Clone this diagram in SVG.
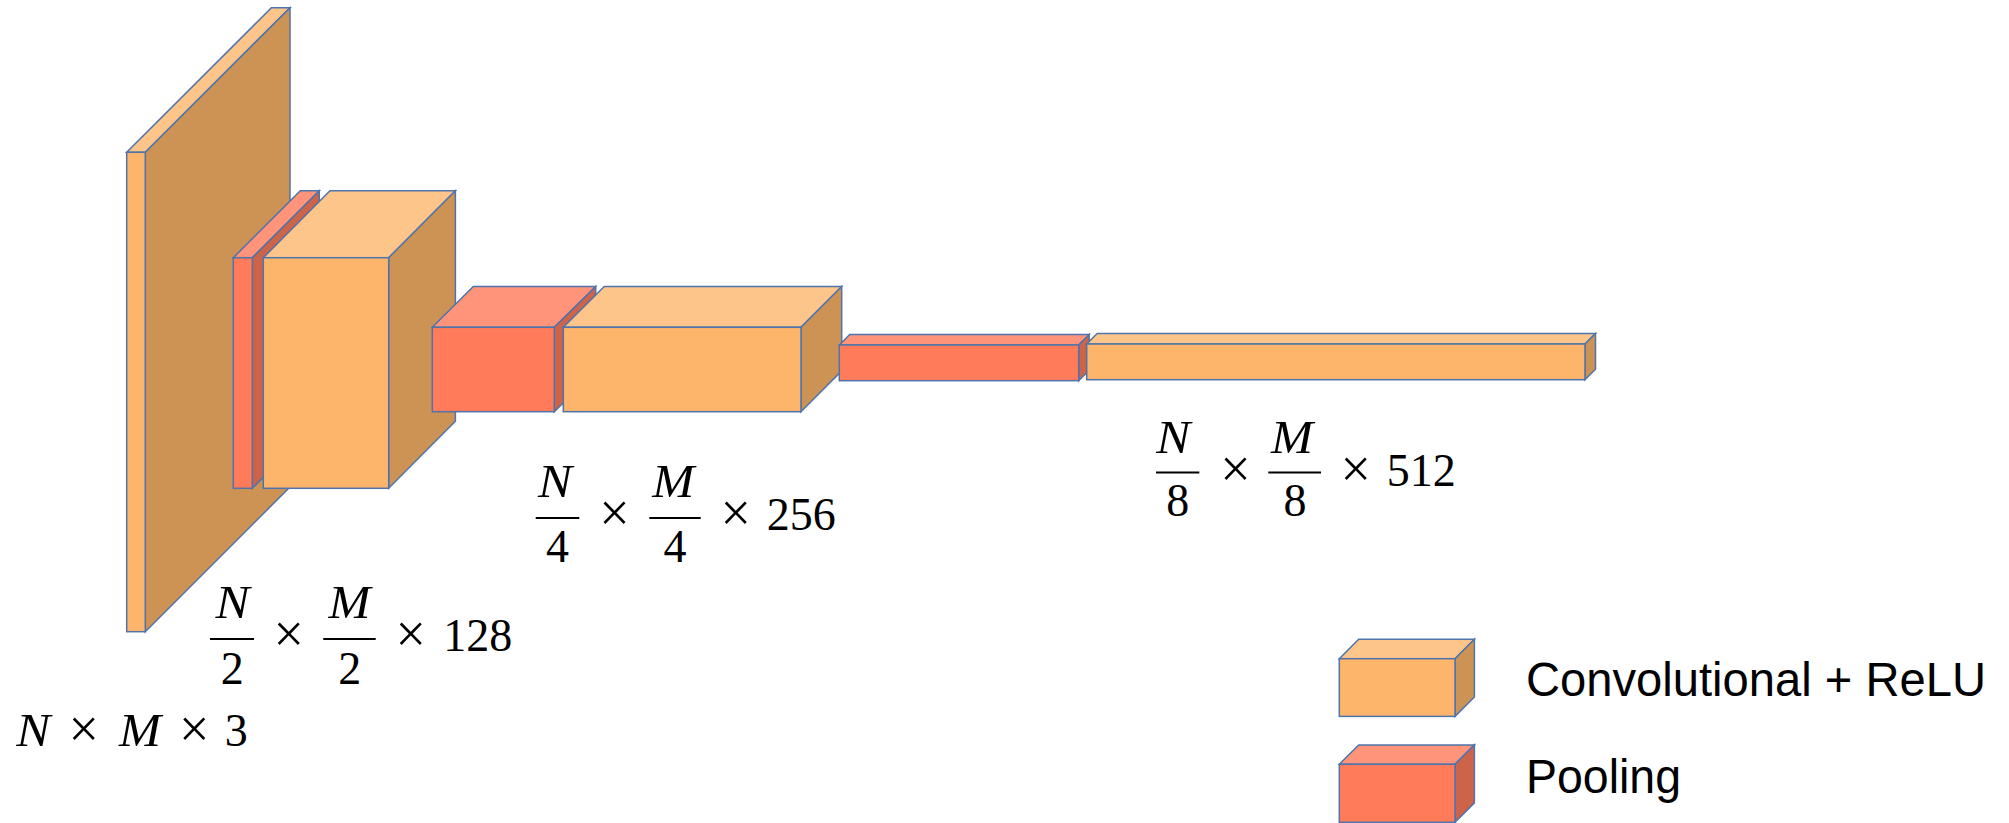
<svg xmlns="http://www.w3.org/2000/svg" width="2009" height="823" viewBox="0 0 2009 823">
<style>
.edge{stroke:#4F74AC;stroke-width:1.5;stroke-linejoin:miter}
.cf{fill:#FDB46B}.ct{fill:#FEC58A}.cs{fill:#CC9355}
.pf{fill:#FF7B5A}.pt{fill:#FF947B}.ps{fill:#CD6449}
.m{font-family:"Liberation Serif","DejaVu Serif",serif;font-size:46px;fill:#000}
.mi{font-style:italic}
.c{text-anchor:middle}
.x{font-size:54px}
.bar{stroke:#000;stroke-width:2}
.lg{font-family:"Liberation Sans",Arial,sans-serif;font-size:48px;fill:#000}
</style>
<rect width="2009" height="823" fill="#fff"/>
<g id="input-layer" class="edge">
<polygon class="ct" points="126.7,152.3 271.4,7.7 290,7.7 145.3,152.3"/>
<polygon class="cs" points="145.3,152.3 290,7.7 290,487 145.3,631.7"/>
<rect class="cf" x="126.7" y="152.3" width="18.6" height="479.4"/>
</g>
<g id="pool1" class="edge">
<polygon class="pt" points="233.3,257.7 300.3,190.7 319.3,190.7 252.3,257.7"/>
<polygon class="ps" points="252.3,257.7 319.3,190.7 319.3,421.3 252.3,488.3"/>
<rect class="pf" x="233.3" y="257.7" width="19" height="230.6"/>
</g>
<g id="conv1" class="edge">
<polygon class="ct" points="263.3,257.7 330,190.7 455.4,190.7 388.7,257.7"/>
<polygon class="cs" points="388.7,257.7 455.4,190.7 455.4,421.3 388.7,488.3"/>
<rect class="cf" x="263.3" y="257.7" width="125.4" height="230.6"/>
</g>
<g id="pool2" class="edge">
<polygon class="pt" points="432.3,327.3 473.3,286.5 595.7,286.5 554.3,327.3"/>
<polygon class="ps" points="554.3,327.3 595.7,286.5 595.7,370.9 554.3,411.7"/>
<rect class="pf" x="432.3" y="327.3" width="122" height="84.4"/>
</g>
<g id="conv2" class="edge">
<polygon class="ct" points="563.3,327.3 604.3,286.5 841.7,286.5 801,327.3"/>
<polygon class="cs" points="801,327.3 841.7,286.5 841.7,370.9 801,411.7"/>
<rect class="cf" x="563.3" y="327.3" width="237.7" height="84.4"/>
</g>
<g id="pool3" class="edge">
<polygon class="pt" points="839.3,345 849.8,334.5 1089.2,334.5 1078.7,345"/>
<polygon class="ps" points="1078.7,345 1089.2,334.5 1089.2,370.2 1078.7,380.7"/>
<rect class="pf" x="839.3" y="345" width="239.4" height="35.7"/>
</g>
<g id="conv3" class="edge">
<polygon class="ct" points="1086.7,344 1097.2,333.5 1595.5,333.5 1585,344"/>
<polygon class="cs" points="1585,344 1595.5,333.5 1595.5,369.2 1585,379.7"/>
<rect class="cf" x="1086.7" y="344" width="498.3" height="35.7"/>
</g>
<g id="connectors"></g>
<g id="label-input">
<text class="m mi c" x="33.3" y="745.7" textLength="34" lengthAdjust="spacingAndGlyphs">N</text>
<text class="m x c" x="83.8" y="747">×</text>
<text class="m mi c" x="140" y="745.7" textLength="42" lengthAdjust="spacingAndGlyphs">M</text>
<text class="m x c" x="194.3" y="747">×</text>
<text class="m c" x="236.3" y="745.7">3</text>
</g>
<g id="label-128">
<text class="m mi c" x="232.5" y="617.7" textLength="34" lengthAdjust="spacingAndGlyphs">N</text>
<line class="bar" x1="210" y1="639" x2="254" y2="639"/>
<text class="m c" x="232.2" y="684">2</text>
<text class="m x c" x="288.8" y="652">×</text>
<text class="m mi c" x="349.5" y="617.7" textLength="42" lengthAdjust="spacingAndGlyphs">M</text>
<line class="bar" x1="323.3" y1="639" x2="375.7" y2="639"/>
<text class="m c" x="349.7" y="684">2</text>
<text class="m x c" x="410.8" y="652">×</text>
<text class="m" x="443.3" y="651">128</text>
</g>
<g id="label-256">
<text class="m mi c" x="555" y="496.7" textLength="34" lengthAdjust="spacingAndGlyphs">N</text>
<line class="bar" x1="535.7" y1="518" x2="579.3" y2="518"/>
<text class="m c" x="557.5" y="562.3">4</text>
<text class="m x c" x="614.5" y="531">×</text>
<text class="m mi c" x="673.3" y="496.7" textLength="42" lengthAdjust="spacingAndGlyphs">M</text>
<line class="bar" x1="649.3" y1="518" x2="700.7" y2="518"/>
<text class="m c" x="675" y="562.3">4</text>
<text class="m x c" x="735.8" y="531">×</text>
<text class="m" x="766.7" y="530">256</text>
</g>
<g id="label-512">
<text class="m mi c" x="1173.3" y="453.3" textLength="34" lengthAdjust="spacingAndGlyphs">N</text>
<line class="bar" x1="1156" y1="472.5" x2="1199.3" y2="472.5"/>
<text class="m c" x="1177.8" y="516">8</text>
<text class="m x c" x="1235.5" y="487">×</text>
<text class="m mi c" x="1292" y="453.3" textLength="42" lengthAdjust="spacingAndGlyphs">M</text>
<line class="bar" x1="1268.3" y1="472.5" x2="1321" y2="472.5"/>
<text class="m c" x="1295" y="516">8</text>
<text class="m x c" x="1355.8" y="487">×</text>
<text class="m" x="1386.7" y="486">512</text>
</g>
<g id="legend-conv" class="edge">
<polygon class="ct" points="1339.3,658.7 1358.7,639.3 1474.4,639.3 1455,658.7"/>
<polygon class="cs" points="1455,658.7 1474.4,639.3 1474.4,697 1455,716.4"/>
<rect class="cf" x="1339.3" y="658.7" width="115.7" height="57.7"/>
</g>
<g id="legend-pool" class="edge">
<polygon class="pt" points="1339.3,764.3 1358.7,744.9 1474.4,744.9 1455,764.3"/>
<polygon class="ps" points="1455,764.3 1474.4,744.9 1474.4,802.9 1455,822.3"/>
<rect class="pf" x="1339.3" y="764.3" width="115.7" height="58"/>
</g>
<g id="legend-text">
<text class="lg" x="1526" y="696" textLength="460" lengthAdjust="spacingAndGlyphs">Convolutional + ReLU</text>
<text class="lg" x="1526" y="793" textLength="155" lengthAdjust="spacingAndGlyphs">Pooling</text>
</g>
</svg>
